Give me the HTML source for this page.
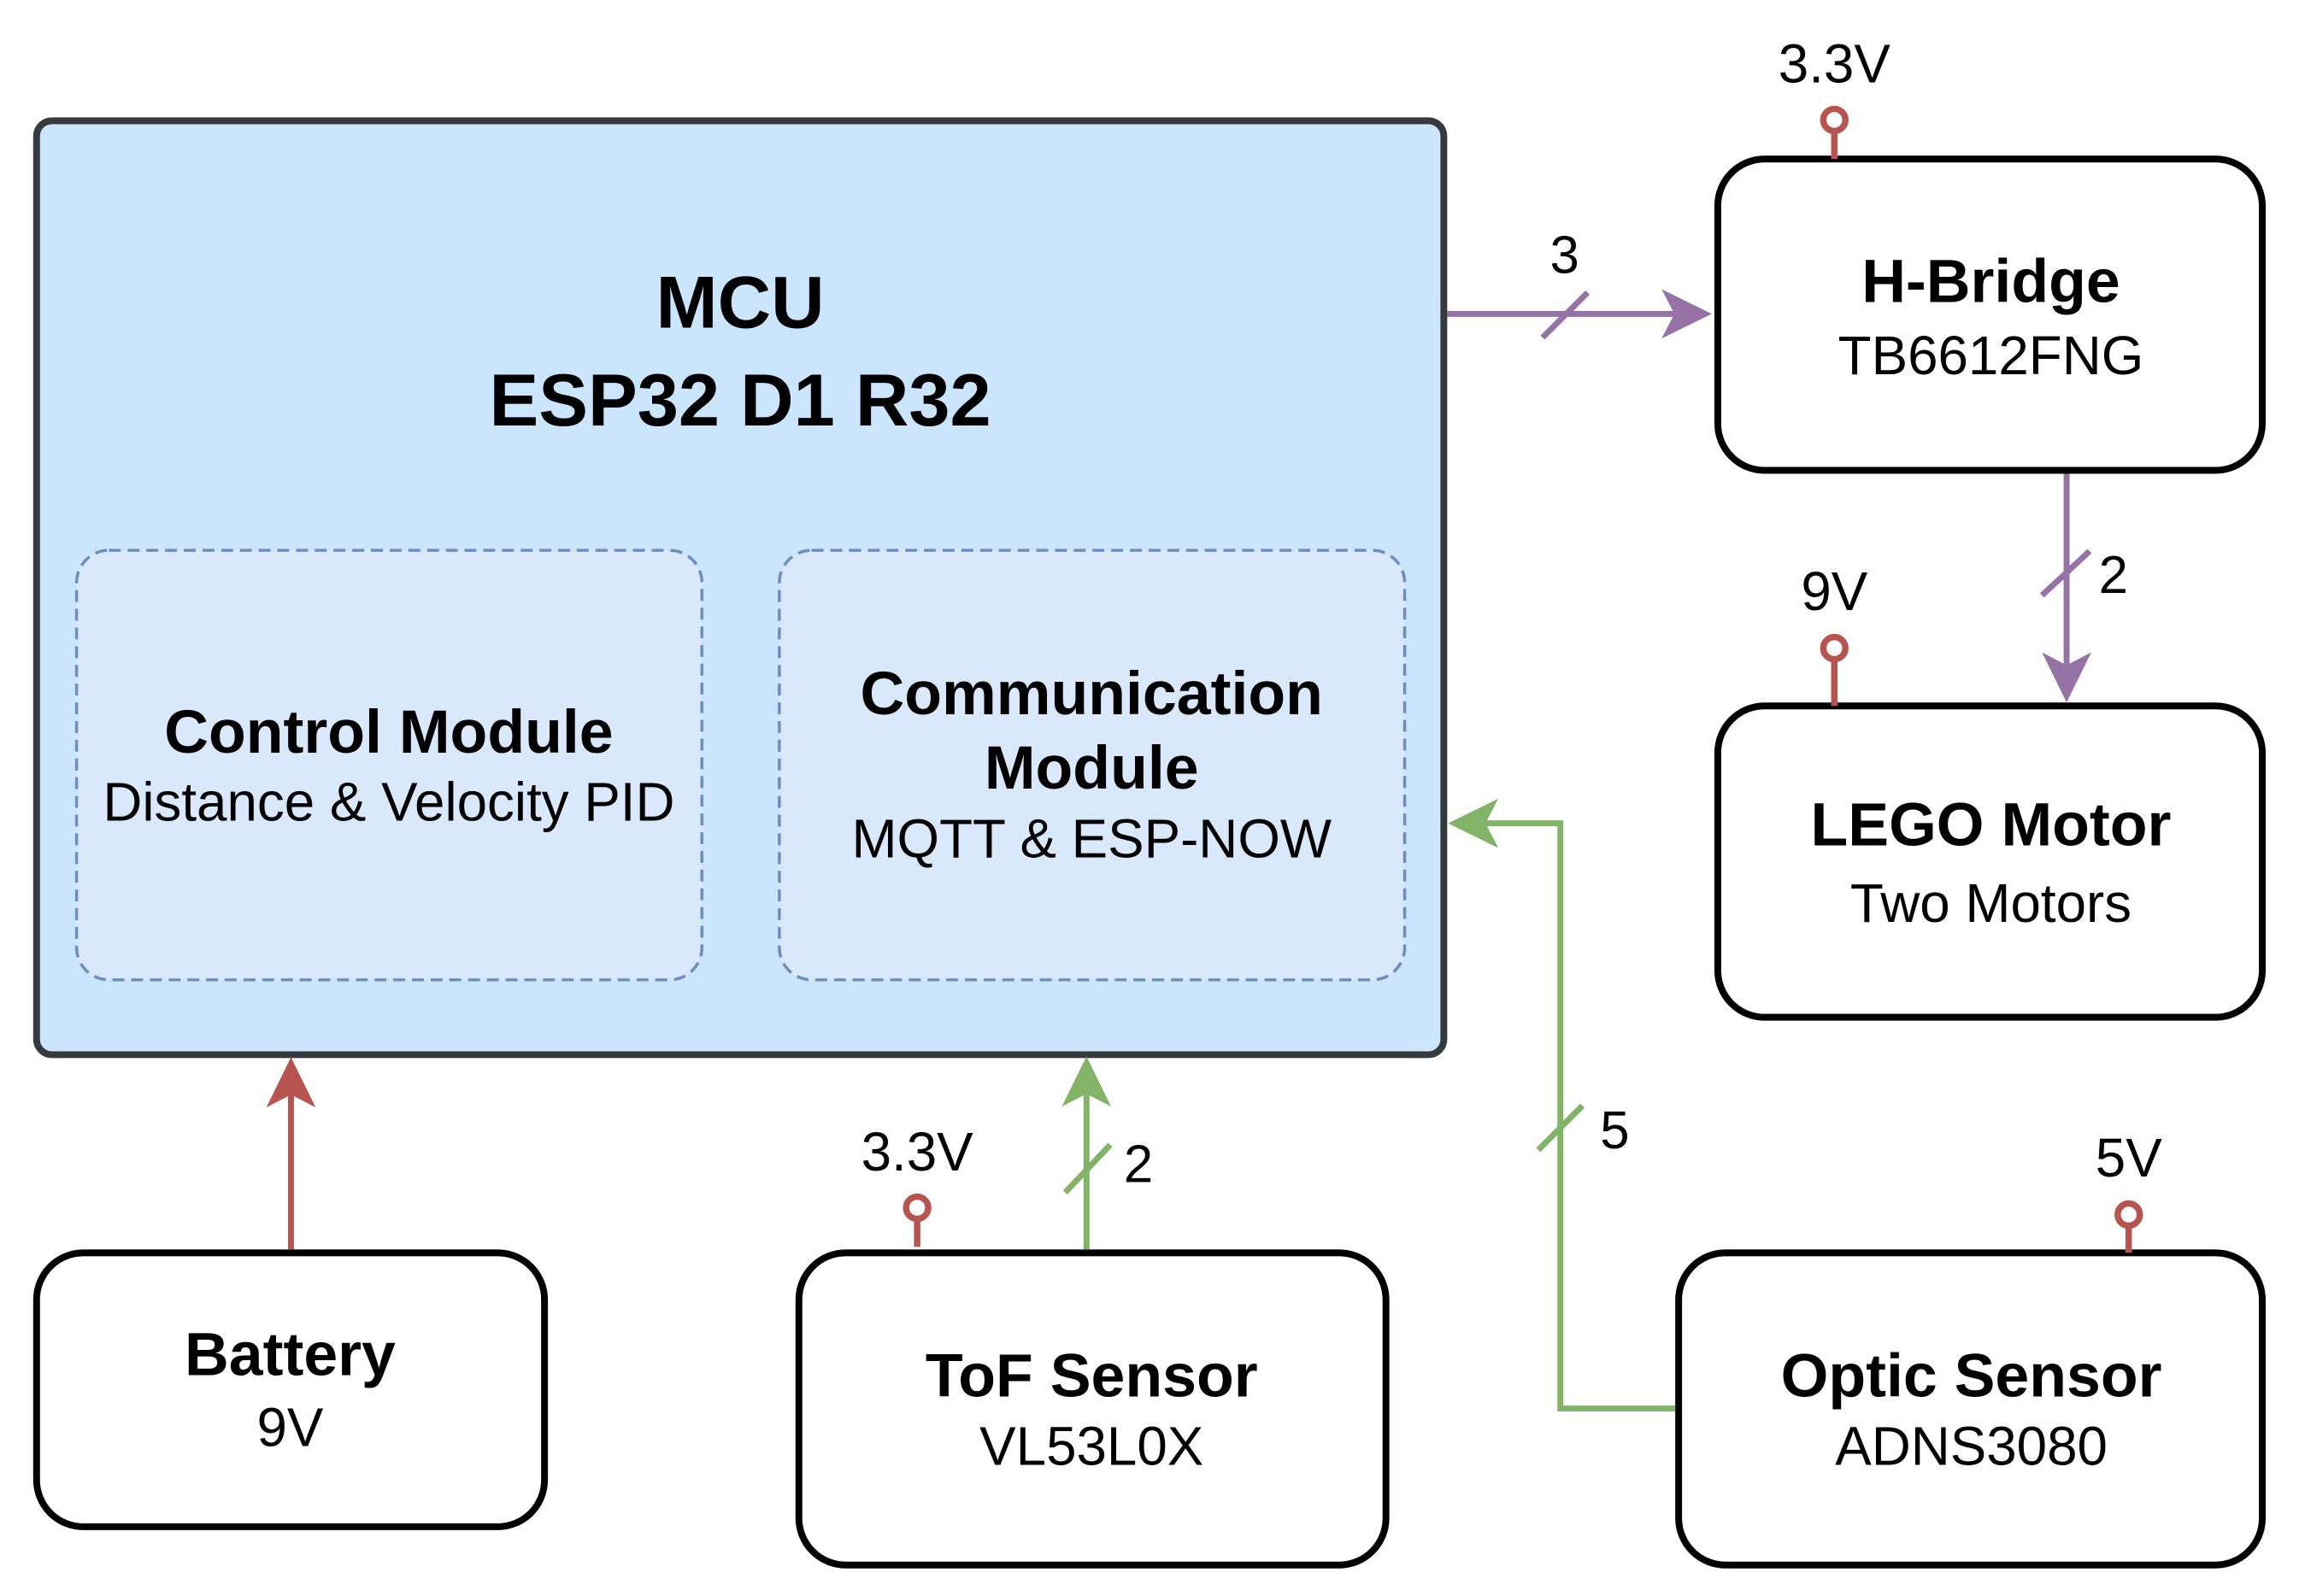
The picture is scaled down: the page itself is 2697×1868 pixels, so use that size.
<!DOCTYPE html>
<html><head><meta charset="utf-8"><style>
html,body{margin:0;padding:0;background:#fff;}
svg{display:block;}
text{font-family:"Liberation Sans",Arial,sans-serif;fill:#000;}
.b{font-weight:bold;}
</style></head><body>
<svg width="2697" height="1868" viewBox="0 0 2697 1868" xmlns="http://www.w3.org/2000/svg">
<g transform="scale(0.9955)">
<!-- MCU -->
<rect x="43" y="142" width="1654" height="1098" rx="18" fill="#cce5ff" stroke="#36393d" stroke-width="8"/>
<text x="870" y="385" font-size="87" class="b" text-anchor="middle">MCU</text>
<text x="870" y="500" font-size="87" class="b" text-anchor="middle">ESP32 D1 R32</text>
<rect x="90" y="647" width="735" height="505" rx="38" fill="#dae8fc" stroke="#6c8ebf" stroke-width="3.5" stroke-dasharray="14,8"/>
<rect x="916" y="647" width="735" height="505" rx="38" fill="#dae8fc" stroke="#6c8ebf" stroke-width="3.5" stroke-dasharray="14,8"/>
<text x="457" y="885" font-size="72" class="b" text-anchor="middle">Control Module</text>
<text x="457" y="965" font-size="64" text-anchor="middle">Distance &amp; Velocity PID</text>
<text x="1283" y="840" font-size="72" class="b" text-anchor="middle">Communication</text>
<text x="1283" y="927" font-size="72" class="b" text-anchor="middle">Module</text>
<text x="1283" y="1008" font-size="64" text-anchor="middle">MQTT &amp; ESP-NOW</text>

<!-- boxes -->
<g fill="#fff" stroke="#000" stroke-width="8">
<rect x="2019" y="187" width="640" height="366" rx="55"/>
<rect x="2019" y="830" width="640" height="366" rx="55"/>
<rect x="1973" y="1473" width="686" height="367" rx="55"/>
<rect x="43" y="1473" width="597" height="322" rx="55"/>
<rect x="939" y="1473" width="690" height="367" rx="55"/>
</g>
<text x="2340" y="355" font-size="72" class="b" text-anchor="middle">H-Bridge</text>
<text x="2340" y="440" font-size="64" text-anchor="middle">TB6612FNG</text>
<text x="2340" y="994" font-size="72" class="b" text-anchor="middle">LEGO Motor</text>
<text x="2340" y="1084" font-size="64" text-anchor="middle">Two Motors</text>
<text x="2317" y="1642" font-size="72" class="b" text-anchor="middle">Optic Sensor</text>
<text x="2317" y="1722" font-size="64" text-anchor="middle">ADNS3080</text>
<text x="341" y="1617" font-size="72" class="b" text-anchor="middle">Battery</text>
<text x="341" y="1700" font-size="64" text-anchor="middle">9V</text>
<text x="1283" y="1642" font-size="72" class="b" text-anchor="middle">ToF Sensor</text>
<text x="1283" y="1722" font-size="64" text-anchor="middle">VL53L0X</text>

<!-- purple connectors -->
<g stroke="#9673a6" stroke-width="7" fill="none">
<line x1="1701" y1="369" x2="1980" y2="369"/>
<line x1="1813" y1="397" x2="1866" y2="344"/>
<line x1="2429" y1="557" x2="2429" y2="800"/>
<line x1="2400" y1="700" x2="2456" y2="648"/>
</g>
<polygon points="2012,369 1953,340 1968,369 1953,398" fill="#9673a6"/>
<polygon points="2429,826 2400,767 2429,782 2458,767" fill="#9673a6"/>
<text x="1839" y="321" font-size="62" text-anchor="middle">3</text>
<text x="2484" y="697" font-size="62" text-anchor="middle">2</text>

<!-- red battery arrow -->
<line x1="342" y1="1469" x2="342" y2="1275" stroke="#b85450" stroke-width="7"/>
<polygon points="342,1243 313,1302 342,1287 371,1302" fill="#b85450"/>

<!-- green connectors -->
<g stroke="#82b366" stroke-width="7" fill="none">
<line x1="1277" y1="1469" x2="1277" y2="1275"/>
<line x1="1252" y1="1402" x2="1305" y2="1346"/>
<polyline points="1969,1656 1834,1656 1834,968 1735,968"/>
<line x1="1808" y1="1352" x2="1860" y2="1300"/>
</g>
<polygon points="1277,1242 1248,1301 1277,1286 1306,1301" fill="#82b366"/>
<polygon points="1702,968 1761,939 1746,968 1761,997" fill="#82b366"/>
<text x="1338" y="1390" font-size="62" text-anchor="middle">2</text>
<text x="1898" y="1350" font-size="62" text-anchor="middle">5</text>

<!-- power pins -->
<g stroke="#b85450" stroke-width="7.5" fill="#fff">
<line x1="2156" y1="154" x2="2156" y2="187"/><circle cx="2156" cy="141" r="13"/>
<line x1="2156" y1="775" x2="2156" y2="830"/><circle cx="2156" cy="762" r="13"/>
<line x1="1078" y1="1433" x2="1078" y2="1466"/><circle cx="1078" cy="1420" r="13"/>
<line x1="2502" y1="1441" x2="2502" y2="1473"/><circle cx="2502" cy="1428" r="13"/>
</g>
<text x="2156" y="97" font-size="64" text-anchor="middle">3.3V</text>
<text x="2156" y="717" font-size="64" text-anchor="middle">9V</text>
<text x="1078" y="1376" font-size="64" text-anchor="middle">3.3V</text>
<text x="2502" y="1383" font-size="64" text-anchor="middle">5V</text>
</g>
</svg>
</body></html>
